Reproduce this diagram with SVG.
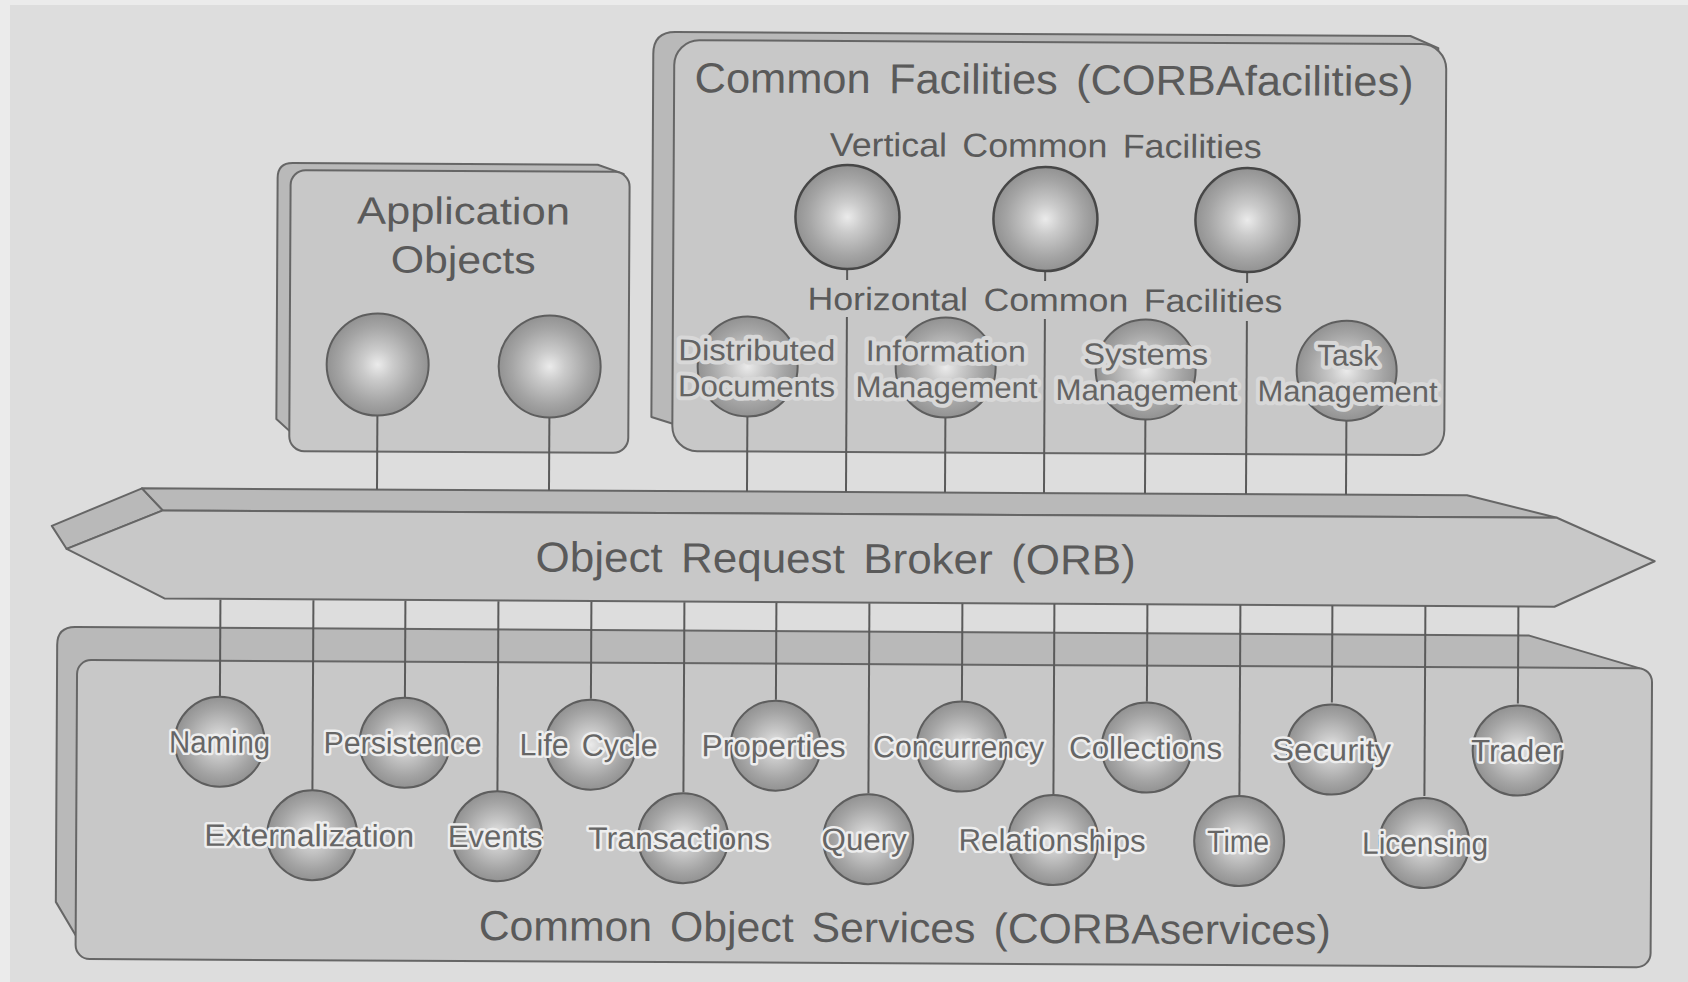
<svg xmlns="http://www.w3.org/2000/svg" width="1688" height="982" viewBox="0 0 1688 982">
  <defs>
    <radialGradient id="ball" cx="50%" cy="50%" r="50%">
      <stop offset="0" stop-color="#ebebeb"/>
      <stop offset="0.3" stop-color="#cbcbcb"/>
      <stop offset="0.75" stop-color="#a4a4a4"/>
      <stop offset="1" stop-color="#929292"/>
    </radialGradient>
    <style>
      .face { fill: #c8c8c8; stroke: #666; stroke-width: 2; stroke-linejoin: round; }
      .side { fill: #b9b9b9; stroke: #666; stroke-width: 2; stroke-linejoin: round; }
      .ball { fill: url(#ball); stroke: #5e5e5e; stroke-width: 2; }
      .ball.dark { stroke: #474747; stroke-width: 2.5; }
      .wire { stroke: #5a5a5a; stroke-width: 2; fill: none; }
      .title { font-family: "Liberation Sans", Arial, sans-serif; fill: #5a5a5a; text-anchor: middle; }
      .lbl { font-family: "Liberation Sans", Arial, sans-serif; font-size: 31px; fill: #666666; stroke: #eeeeee; stroke-width: 5; stroke-linejoin: round; paint-order: stroke; text-anchor: middle; }
      .hlbl { font-family: "Liberation Sans", Arial, sans-serif; font-size: 30px; fill: #646464; stroke: #d8d8d8; stroke-width: 8; stroke-linejoin: round; paint-order: stroke; text-anchor: middle; }
    </style>
  </defs>

  <!-- paper -->
  <rect x="0" y="0" width="1688" height="982" fill="#ebebeb"/>
  <rect x="10" y="5" width="1678" height="977" fill="#dddddd"/>

  <g transform="rotate(0.3 844 491)">
    <!-- Application Objects container -->
    <g id="application-objects">
      <path class="side" d="M276,181 Q276,166 291,166 L596,166 L622,175 L610,440 L296,440 L276,422 Z"/>
      <rect class="face" x="289" y="173" width="339" height="281" rx="15"/>
      <text class="title" x="462" y="226" font-size="38" textLength="213" lengthAdjust="spacingAndGlyphs">Application</text>
      <text class="title" x="462" y="275" font-size="38" textLength="145" lengthAdjust="spacingAndGlyphs">Objects</text>
    </g>

    <!-- Common Facilities container -->
    <g id="common-facilities">
      <path class="side" d="M651,55 Q651,33 673,33 L1408,33 L1436,45 L1420,420 L690,430 L651,418 Z"/>
      <rect class="face" x="672" y="41" width="772" height="411" rx="25"/>
      <text class="title" x="1052" y="93" font-size="42" word-spacing="6" textLength="719" lengthAdjust="spacingAndGlyphs">Common Facilities (CORBAfacilities)</text>
      <text class="title" x="1044" y="156" font-size="33" word-spacing="5" textLength="432" lengthAdjust="spacingAndGlyphs">Vertical Common Facilities</text>
      <text class="title" x="1044" y="310" font-size="32" word-spacing="5" textLength="475" lengthAdjust="spacingAndGlyphs">Horizontal Common Facilities</text>
    </g>

    <!-- Object Request Broker bar -->
    <g id="orb">
      <polygon class="side" points="52,530 142,492 163,514 67,553"/>
      <polygon class="side" points="142,492 1467,492 1557,514 163,514"/>
      <polygon class="face" points="163,514 1557,514 1655,557 1555,603 165,602 67,553"/>
      <text class="title" x="836" y="573" font-size="42" word-spacing="6" textLength="600" lengthAdjust="spacingAndGlyphs">Object Request Broker (ORB)</text>
    </g>

    <!-- Common Object Services container -->
    <g id="common-object-services">
      <path class="side" d="M58,649 Q58,631 76,631 L1530,632 L1640,664 L1620,930 L100,930 L79,941 L58,906 Z"/>
      <rect class="face" x="78" y="664" width="1575" height="299" rx="14"/>
      <text class="title" x="907" y="942" font-size="42" word-spacing="6" textLength="852" lengthAdjust="spacingAndGlyphs">Common Object Services (CORBAservices)</text>
    </g>

    <!-- connectors -->
    <g id="connectors" class="wire">
      <line x1="377" y1="418" x2="377" y2="492"/>
      <line x1="549" y1="419" x2="549" y2="492"/>

      <line x1="747" y1="417" x2="747" y2="492"/>
      <line x1="846" y1="269" x2="846" y2="280"/>
      <line x1="846" y1="317" x2="846" y2="492"/>
      <line x1="945" y1="417" x2="945" y2="492"/>
      <line x1="1044" y1="270" x2="1044" y2="280"/>
      <line x1="1044" y1="318" x2="1044" y2="492"/>
      <line x1="1145" y1="418" x2="1145" y2="492"/>
      <line x1="1246" y1="270" x2="1246" y2="281"/>
      <line x1="1246" y1="319" x2="1246" y2="492"/>
      <line x1="1346" y1="418" x2="1346" y2="492"/>

      <line x1="221" y1="603" x2="221" y2="700"/>
      <line x1="314" y1="603" x2="314" y2="793"/>
      <line x1="406" y1="603" x2="406" y2="700"/>
      <line x1="499" y1="603" x2="499" y2="793"/>
      <line x1="592" y1="603" x2="592" y2="700"/>
      <line x1="685" y1="603" x2="685" y2="793"/>
      <line x1="777" y1="603" x2="777" y2="700"/>
      <line x1="870" y1="603" x2="870" y2="793"/>
      <line x1="963" y1="603" x2="963" y2="700"/>
      <line x1="1055" y1="603" x2="1055" y2="793"/>
      <line x1="1148" y1="603" x2="1148" y2="700"/>
      <line x1="1241" y1="603" x2="1241" y2="793"/>
      <line x1="1333" y1="603" x2="1333" y2="700"/>
      <line x1="1426" y1="603" x2="1426" y2="793"/>
      <line x1="1519" y1="603" x2="1519" y2="700"/>
    </g>

    <!-- application objects -->
    <g id="app-object-1"><circle class="ball" cx="377" cy="367" r="51"/></g>
    <g id="app-object-2"><circle class="ball" cx="549" cy="368" r="51"/></g>

    <!-- vertical common facilities -->
    <g id="vertical-facility-1"><circle class="ball dark" cx="846" cy="217" r="52"/></g>
    <g id="vertical-facility-2"><circle class="ball dark" cx="1044" cy="218" r="52"/></g>
    <g id="vertical-facility-3"><circle class="ball dark" cx="1246" cy="218" r="52"/></g>

    <!-- horizontal common facilities -->
    <g id="distributed-documents">
      <circle class="ball" cx="747" cy="367" r="50"/>
      <text class="hlbl" x="756" y="361" textLength="157" lengthAdjust="spacingAndGlyphs">Distributed</text>
      <text class="hlbl" x="756" y="397" textLength="157" lengthAdjust="spacingAndGlyphs">Documents</text>
    </g>
    <g id="information-management">
      <circle class="ball" cx="945" cy="367" r="50"/>
      <text class="hlbl" x="945" y="361" textLength="160" lengthAdjust="spacingAndGlyphs">Information</text>
      <text class="hlbl" x="946" y="397" textLength="182" lengthAdjust="spacingAndGlyphs">Management</text>
    </g>
    <g id="systems-management">
      <circle class="ball" cx="1145" cy="368" r="50"/>
      <text class="hlbl" x="1145" y="363" textLength="125" lengthAdjust="spacingAndGlyphs">Systems</text>
      <text class="hlbl" x="1146" y="399" textLength="182" lengthAdjust="spacingAndGlyphs">Management</text>
    </g>
    <g id="task-management">
      <circle class="ball" cx="1346" cy="368" r="50"/>
      <text class="hlbl" x="1347" y="363" textLength="61" lengthAdjust="spacingAndGlyphs">Task</text>
      <text class="hlbl" x="1347" y="399" textLength="180" lengthAdjust="spacingAndGlyphs">Management</text>
    </g>

    <!-- object services, upper row -->
    <g id="naming"><circle class="ball" cx="221" cy="745" r="45"/><text class="lbl" x="221" y="756" textLength="101" lengthAdjust="spacingAndGlyphs">Naming</text></g>
    <g id="persistence"><circle class="ball" cx="406" cy="745" r="45"/><text class="lbl" x="404" y="756" textLength="158" lengthAdjust="spacingAndGlyphs">Persistence</text></g>
    <g id="life-cycle"><circle class="ball" cx="592" cy="746" r="45"/><text class="lbl" x="590" y="757" word-spacing="5" textLength="138" lengthAdjust="spacingAndGlyphs">Life Cycle</text></g>
    <g id="properties"><circle class="ball" cx="777" cy="746" r="45"/><text class="lbl" x="775" y="757" textLength="144" lengthAdjust="spacingAndGlyphs">Properties</text></g>
    <g id="concurrency"><circle class="ball" cx="963" cy="746" r="45"/><text class="lbl" x="960" y="757" textLength="171" lengthAdjust="spacingAndGlyphs">Concurrency</text></g>
    <g id="collections"><circle class="ball" cx="1148" cy="746" r="45"/><text class="lbl" x="1147" y="757" textLength="153" lengthAdjust="spacingAndGlyphs">Collections</text></g>
    <g id="security"><circle class="ball" cx="1333" cy="747" r="45"/><text class="lbl" x="1333" y="758" textLength="119" lengthAdjust="spacingAndGlyphs">Security</text></g>
    <g id="trader"><circle class="ball" cx="1519" cy="747" r="45"/><text class="lbl" x="1518" y="758" textLength="91" lengthAdjust="spacingAndGlyphs">Trader</text></g>

    <!-- object services, lower row -->
    <g id="externalization"><circle class="ball" cx="314" cy="838" r="45"/><text class="lbl" x="311" y="849" textLength="210" lengthAdjust="spacingAndGlyphs">Externalization</text></g>
    <g id="events"><circle class="ball" cx="499" cy="838" r="45"/><text class="lbl" x="497" y="849" textLength="95" lengthAdjust="spacingAndGlyphs">Events</text></g>
    <g id="transactions"><circle class="ball" cx="685" cy="839" r="45"/><text class="lbl" x="681" y="850" textLength="182" lengthAdjust="spacingAndGlyphs">Transactions</text></g>
    <g id="query"><circle class="ball" cx="870" cy="839" r="45"/><text class="lbl" x="866" y="850" textLength="85" lengthAdjust="spacingAndGlyphs">Query</text></g>
    <g id="relationships"><circle class="ball" cx="1055" cy="839" r="45"/><text class="lbl" x="1054" y="850" textLength="187" lengthAdjust="spacingAndGlyphs">Relationships</text></g>
    <g id="time"><circle class="ball" cx="1241" cy="839" r="45"/><text class="lbl" x="1240" y="850" textLength="62" lengthAdjust="spacingAndGlyphs">Time</text></g>
    <g id="licensing"><circle class="ball" cx="1426" cy="840" r="45"/><text class="lbl" x="1427" y="851" textLength="126" lengthAdjust="spacingAndGlyphs">Licensing</text></g>
  </g>
</svg>
